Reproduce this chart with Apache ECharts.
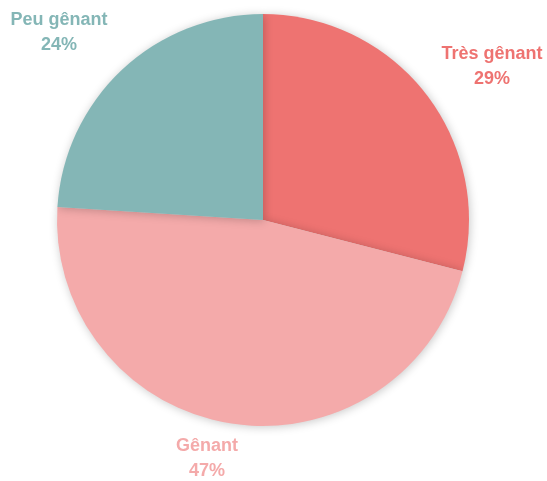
<!DOCTYPE html>
<html>
<head>
<meta charset="utf-8">
<script src="https://cdn.jsdelivr.net/npm/echarts@6/dist/echarts.min.js"></script>
<style>
  html, body { margin: 0; padding: 0; background: #fff; }
  #chart { width: 547px; height: 481px; }
</style>
</head>
<body>
<div id="chart"></div>
<script>
const categories = ['Très gênant', 'Gênant', 'Peu gênant'];
const values = [29, 47, 24];
const colors = ['#EE7371', '#F4AAAA', '#84B6B6'];
// where each label sits (label centre, px)
const labelPos = [[492, 67], [207, 459], [59, 33]];

const chart = echarts.init(document.getElementById('chart'));

chart.setOption({
  animation: false,
  series: [{
    type: 'pie',
    center: [263, 220],
    radius: 206,
    startAngle: 90,
    clockwise: true,
    data: categories.map((name, i) => ({
      name: name,
      value: values[i],
      itemStyle: { color: colors[i] },
      label: { color: colors[i] }
    })),
    itemStyle: {
      shadowBlur: 10,
      shadowColor: 'rgba(0,0,0,0.22)',
      shadowOffsetX: 1,
      shadowOffsetY: 1
    },
    label: {
      show: true,
      position: 'outside',
      formatter: '{b}\n{d}%',
      fontFamily: '"Liberation Sans Narrow", "Arial Narrow", "Liberation Sans", sans-serif',
      fontWeight: 'bold',
      fontSize: 18,
      lineHeight: 25,
      align: 'center',
      verticalAlign: 'middle',
      overflow: 'none',
      width: 200
    },
    labelLine: { show: false },
    labelLayout: function (params) {
      const p = labelPos[params.dataIndex];
      return { x: p[0], y: p[1], align: 'center', verticalAlign: 'middle' };
    }
  }]
});
</script>
</body>
</html>
